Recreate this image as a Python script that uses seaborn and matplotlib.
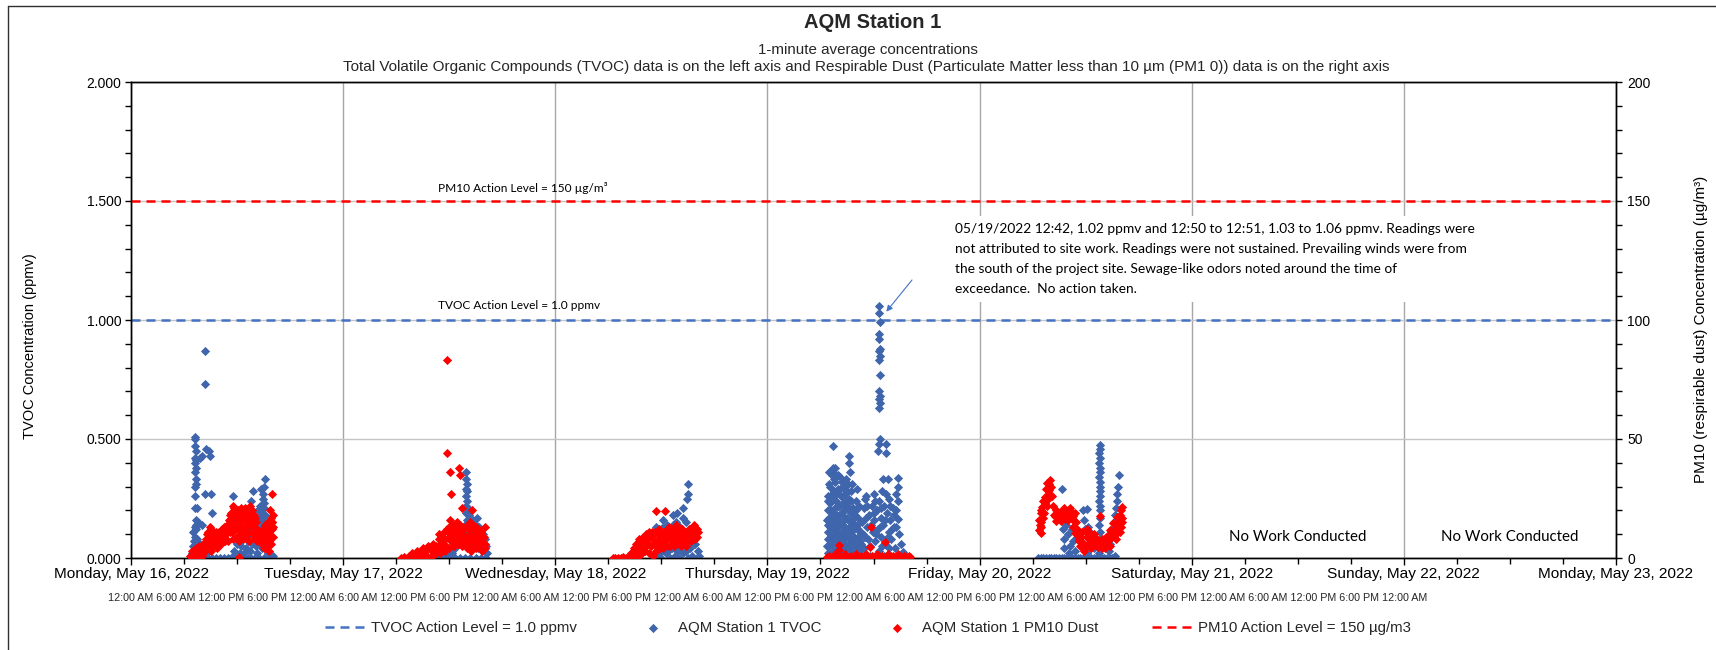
import pandas as pd
import matplotlib
matplotlib.use("Agg")
import matplotlib.pyplot as plt
import matplotlib.dates as mdates
from matplotlib.ticker import MultipleLocator, FormatStrFormatter
from matplotlib.lines import Line2D
import seaborn as sns

# ---------------- text ----------------
title = "AQM Station 1"
subtitle1 = "1-minute average concentrations"
subtitle2 = ("Total Volatile Organic Compounds (TVOC) data is on the left axis and Respirable Dust "
             "(Particulate Matter less than 10 µm (PM1 0)) data is on the right axis")
left_label = "TVOC Concentration (ppmv)"
right_label = "PM10 (respirable dust) Concentration (µg/m³)"
hour_cycle = ["12:00 AM", "6:00 AM", "12:00 PM", "6:00 PM"]
hour_labels = hour_cycle * 7 + ["12:00 AM"]
note_text = ("05/19/2022 12:42, 1.02 ppmv and 12:50 to 12:51, 1.03 to 1.06 ppmv. Readings were\n"
             "not attributed to site work. Readings were not sustained. Prevailing winds were from\n"
             "the south of the project site. Sewage-like odors noted around the time of\n"
             "exceedance.  No action taken.")
no_work_text = "No Work Conducted"
no_work_days = ["2022-05-21 12:00", "2022-05-22 12:00"]

x_start, x_end = "2022-05-16", "2022-05-23"
tvoc_action = 1.0      # ppmv
pm10_action = 150      # µg/m3

# ---------------- data: (hour of day, value) ----------------
tvoc_may16 = [
    (7.2, 0.51), (7.25, 0.50), (7.2, 0.47), (7.3, 0.45), (7.2, 0.42), (7.3, 0.41), (7.2, 0.40),
    (7.35, 0.38), (7.2, 0.36), (7.4, 0.33), (7.3, 0.31), (7.2, 0.30), (7.25, 0.26), (7.2, 0.21),
    (7.45, 0.21), (7.3, 0.16), (7.4, 0.14), (7.2, 0.13), (7.35, 0.12), (7.05, 0.11), (7.2, 0.09),
    (7.1, 0.07), (7.0, 0.05), (7.1, 0.03), (6.9, 0.02), (7.0, 0.01),
    (8.35, 0.87), (8.4, 0.73), (8.5, 0.46), (8.85, 0.45), (8.9, 0.43), (7.8, 0.42), (8.0, 0.43),
    (8.4, 0.27), (9.1, 0.27), (9.15, 0.19), (7.6, 0.15), (8.0, 0.14), (11.55, 0.26),
    (7.6, 0.05), (8.0, 0.03), (8.3, 0.01), (8.7, 0.0), (9.2, 0.0), (9.6, 0.0), (10.1, 0.0),
    (10.5, 0.0), (11.0, 0.0), (11.5, 0.01), (11.9, 0.0), (12.3, 0.0), (12.8, 0.0), (13.2, 0.0),
    (13.6, 0.0), (14.0, 0.0), (14.5, 0.0), (15.0, 0.0), (15.5, 0.0), (15.9, 0.0), (16.1, 0.01),
    (11.7, 0.03), (12.0, 0.06), (12.2, 0.09), (12.3, 0.02), (12.4, 0.11), (12.5, 0.05), (12.7, 0.08),
    (12.8, 0.02), (12.9, 0.12), (13.0, 0.04), (13.2, 0.07), (13.4, 0.10), (13.5, 0.03), (13.7, 0.06),
    (13.9, 0.09), (14.1, 0.05), (14.3, 0.02),
    (13.6, 0.24), (13.85, 0.28), (14.2, 0.15), (14.4, 0.20), (14.5, 0.17), (14.6, 0.22), (14.7, 0.13),
    (14.8, 0.19), (14.9, 0.25), (14.9, 0.16), (14.95, 0.27), (15.0, 0.30), (15.0, 0.21), (15.0, 0.11),
    (15.1, 0.23), (15.1, 0.14), (15.15, 0.33), (15.2, 0.18), (15.3, 0.08), (15.4, 0.05), (15.5, 0.02),
    (15.8, 0.01), (16.0, 0.0),
    (7.5, 0.08), (7.8, 0.06), (8.2, 0.04), (8.6, 0.02), (14.5, 0.09), (14.8, 0.04), (15.2, 0.10),
    (14.7, 0.29), (15.0, 0.07), (13.0, 0.10), (13.3, 0.12), (12.6, 0.13),
]
tvoc_may17 = [
    (13.95, 0.36), (13.9, 0.33), (14.0, 0.31), (13.9, 0.29), (14.05, 0.28), (13.95, 0.26), (14.0, 0.24),
    (13.85, 0.22), (14.1, 0.21), (13.9, 0.19), (14.2, 0.18), (14.0, 0.16), (14.3, 0.15), (13.8, 0.14),
    (14.5, 0.14), (13.9, 0.12), (14.7, 0.16), (15.1, 0.17), (15.0, 0.14), (15.4, 0.13), (15.6, 0.11),
    (15.8, 0.10), (16.0, 0.08), (16.2, 0.05), (16.3, 0.02), (15.3, 0.09), (14.8, 0.10), (14.4, 0.11),
    (13.7, 0.10), (13.4, 0.08), (13.1, 0.06), (12.7, 0.04), (12.3, 0.02), (11.8, 0.01), (11.3, 0.0),
    (10.8, 0.0), (12.0, 0.0), (12.6, 0.0), (13.2, 0.0), (13.8, 0.0), (14.4, 0.0), (15.0, 0.0),
    (15.6, 0.0), (16.2, 0.0), (14.6, 0.05), (15.2, 0.04), (15.9, 0.03), (14.2, 0.06), (14.9, 0.07),
]
tvoc_may18 = [
    (15.0, 0.31), (15.05, 0.27), (14.95, 0.25), (14.45, 0.21), (14.5, 0.17), (12.2, 0.16), (13.3, 0.18),
    (13.8, 0.19), (13.3, 0.14), (12.1, 0.125), (11.4, 0.13), (14.1, 0.13), (13.6, 0.15), (12.6, 0.14),
    (14.8, 0.15), (15.2, 0.12), (15.5, 0.10), (15.8, 0.06),
    (11.0, 0.0), (11.5, 0.01), (12.0, 0.0), (12.5, 0.02), (13.0, 0.0), (13.5, 0.01), (14.0, 0.0),
    (14.5, 0.02), (15.0, 0.0), (15.5, 0.01), (16.0, 0.0), (16.3, 0.01), (12.2, 0.04), (13.2, 0.04),
    (14.2, 0.05), (15.2, 0.04), (16.1, 0.03), (11.8, 0.02), (12.8, 0.03), (13.8, 0.03), (14.8, 0.03),
]
tvoc_may19 = [
    (12.67, 1.06), (12.65, 1.03), (12.7, 0.99), (12.6, 0.94), (12.65, 0.92), (12.7, 0.88), (12.65, 0.87),
    (12.7, 0.85), (12.65, 0.83), (12.7, 0.77), (12.65, 0.70), (12.7, 0.68), (12.65, 0.67), (12.7, 0.65),
    (12.65, 0.63), (12.7, 0.50), (12.65, 0.48), (13.4, 0.48), (12.5, 0.45), (13.4, 0.44),
    (7.4, 0.47), (9.28, 0.43), (9.28, 0.40), (7.4, 0.38), (9.3, 0.36), (7.45, 0.36),
    (6.8, 0.02), (6.8, 0.08), (6.8, 0.14), (6.8, 0.20), (6.9, 0.11), (6.9, 0.26), (7.0, 0.05), (7.0, 0.17),
    (7.1, 0.23), (7.1, 0.30), (7.2, 0.09), (7.2, 0.14), (7.3, 0.19), (7.3, 0.35), (7.4, 0.03), (7.4, 0.25),
    (7.5, 0.12), (7.5, 0.28), (7.6, 0.07), (7.6, 0.21), (7.7, 0.16), (7.7, 0.32), (7.8, 0.10), (7.8, 0.24),
    (7.9, 0.04), (7.9, 0.18), (8.0, 0.13), (8.0, 0.29), (8.1, 0.08), (8.1, 0.22), (8.2, 0.15), (8.2, 0.34),
    (8.3, 0.05), (8.3, 0.26), (8.4, 0.11), (8.4, 0.19), (8.5, 0.23), (8.5, 0.02), (8.6, 0.14), (8.6, 0.30),
    (8.7, 0.08), (8.7, 0.20), (8.8, 0.17), (8.8, 0.27), (8.9, 0.04), (8.9, 0.12), (9.0, 0.22), (9.0, 0.09),
    (9.1, 0.16), (9.1, 0.31), (9.2, 0.06), (9.2, 0.25), (9.3, 0.13), (9.4, 0.19), (9.4, 0.03), (9.5, 0.10),
    (9.5, 0.28), (9.6, 0.15), (9.7, 0.21), (9.7, 0.07), (9.8, 0.12), (9.9, 0.18), (10.0, 0.05), (10.0, 0.24),
    (10.1, 0.14), (10.2, 0.09), (10.3, 0.17), (10.4, 0.03), (10.5, 0.11),
    (6.7, 0.05), (6.75, 0.16), (6.85, 0.24), (6.95, 0.31), (7.05, 0.13), (7.15, 0.20), (7.25, 0.27),
    (7.35, 0.06), (7.45, 0.16), (7.55, 0.33), (7.65, 0.11), (7.75, 0.27), (7.85, 0.14), (7.95, 0.22),
    (8.05, 0.06), (8.15, 0.18), (8.25, 0.29), (8.35, 0.09), (8.45, 0.15), (8.55, 0.26), (8.65, 0.06),
    (8.75, 0.23), (8.85, 0.10), (8.95, 0.17), (9.05, 0.28), (9.15, 0.11), (9.25, 0.20), (9.35, 0.08),
    (9.45, 0.24), (9.55, 0.14), (9.65, 0.05), (9.75, 0.17), (9.85, 0.09), (9.95, 0.13), (10.05, 0.20),
    (10.15, 0.04), (10.25, 0.12), (10.35, 0.22), (10.45, 0.07), (7.0, 0.36), (7.6, 0.38), (8.0, 0.35),
    (8.4, 0.32), (8.9, 0.33), (9.6, 0.31), (10.1, 0.29), (7.8, 0.01), (8.6, 0.01), (9.3, 0.01),
    (10.0, 0.01), (10.8, 0.01), (11.6, 0.01), (12.4, 0.01), (13.2, 0.01), (14.0, 0.01), (14.8, 0.01),
    (15.5, 0.01),
    (10.7, 0.15), (10.9, 0.21), (11.0, 0.09), (11.2, 0.26), (11.3, 0.13), (11.5, 0.18), (11.6, 0.05),
    (11.8, 0.22), (11.9, 0.11), (12.0, 0.27), (12.1, 0.16), (12.2, 0.07), (12.4, 0.20), (12.5, 0.12),
    (12.6, 0.24), (12.8, 0.17), (12.9, 0.09), (13.0, 0.28), (13.1, 0.14), (13.2, 0.22), (13.3, 0.06),
    (13.5, 0.19), (13.6, 0.33), (13.05, 0.33), (13.7, 0.11), (13.8, 0.25), (13.9, 0.16), (14.0, 0.08),
    (14.2, 0.21), (14.3, 0.13), (14.4, 0.04),
    (10.6, 0.06), (10.8, 0.10), (11.1, 0.17), (11.4, 0.08), (11.7, 0.14), (12.0, 0.19), (12.3, 0.10),
    (12.7, 0.13), (13.0, 0.05), (13.3, 0.16), (13.6, 0.09), (13.9, 0.22), (14.1, 0.12), (14.3, 0.18),
    (11.3, 0.22), (12.2, 0.24), (12.9, 0.21), (13.4, 0.27), (11.0, 0.25), (10.9, 0.04), (12.6, 0.03),
    (13.8, 0.04),
    (14.75, 0.335), (14.75, 0.30), (14.6, 0.27), (14.75, 0.24), (14.6, 0.20), (14.75, 0.165),
    (14.6, 0.13), (14.9, 0.10), (15.1, 0.06), (15.3, 0.027), (15.6, 0.013),
]
tvoc_may20 = [
    (6.6, 0.0), (6.9, 0.0), (7.2, 0.0), (7.5, 0.0), (7.8, 0.0), (8.1, 0.0), (8.4, 0.0), (8.7, 0.0),
    (9.0, 0.0), (9.3, 0.0), (9.6, 0.0), (9.9, 0.0), (10.2, 0.01), (10.5, 0.0), (10.8, 0.0), (11.1, 0.0),
    (11.4, 0.0), (11.7, 0.0), (12.0, 0.0), (12.3, 0.0), (12.6, 0.0), (12.9, 0.0), (13.2, 0.0), (13.5, 0.0),
    (13.8, 0.0), (14.1, 0.0), (14.4, 0.0), (14.7, 0.0), (15.0, 0.0), (15.3, 0.01),
    (13.6, 0.475), (13.6, 0.46), (13.55, 0.44), (13.6, 0.42), (13.55, 0.40), (13.6, 0.38), (13.6, 0.36),
    (13.55, 0.34), (13.6, 0.32), (13.6, 0.30), (13.65, 0.28), (13.6, 0.26), (13.55, 0.24), (13.6, 0.22),
    (13.65, 0.20), (13.6, 0.17), (13.55, 0.14), (13.6, 0.11), (13.65, 0.08), (13.6, 0.05), (13.55, 0.02),
    (9.3, 0.29), (12.1, 0.205), (15.8, 0.348), (15.6, 0.27), (15.7, 0.30), (15.5, 0.24), (15.4, 0.21),
    (15.3, 0.18), (15.2, 0.15), (15.0, 0.12), (14.9, 0.09), (14.8, 0.06), (14.6, 0.03),
    (9.2, 0.16), (9.4, 0.12), (9.6, 0.08), (9.8, 0.14), (10.0, 0.10), (10.2, 0.05), (10.4, 0.12),
    (10.6, 0.07), (10.8, 0.03), (11.0, 0.09), (9.5, 0.04), (10.1, 0.02),
    (11.7, 0.20), (11.8, 0.16), (11.9, 0.12), (12.1, 0.09), (12.3, 0.13), (12.5, 0.06), (12.7, 0.10),
    (12.9, 0.04), (12.2, 0.02), (11.6, 0.05),
]

pm10_may16 = [
    (6.7, 1), (6.9, 3), (7.0, 0), (7.1, 1), (7.3, 4), (7.5, 2), (7.6, 0), (7.7, 5), (7.9, 3), (8.0, 1),
    (8.1, 6), (8.3, 4), (8.4, 3), (8.5, 8), (8.7, 11), (8.8, 5), (8.9, 13), (9.0, 10), (9.0, 3), (9.2, 7),
    (9.4, 9), (9.5, 6), (9.6, 11), (9.9, 8), (10.1, 10), (10.2, 6), (10.3, 12), (10.5, 9), (10.6, 7),
    (10.7, 12), (10.9, 14), (11.1, 16), (11.3, 19), (11.4, 15), (11.4, 11), (11.5, 22), (11.6, 17),
    (11.7, 21), (11.8, 13), (11.9, 19), (12.1, 20), (12.2, 14), (12.3, 18), (12.4, 10), (12.5, 17),
    (12.6, 12), (12.7, 19), (12.8, 9), (12.9, 21), (13.0, 13), (13.1, 20), (13.2, 11), (13.3, 18),
    (13.5, 22), (13.6, 14), (13.7, 20), (13.8, 10), (13.9, 18), (14.0, 8), (14.1, 15), (14.3, 12),
    (14.4, 9), (14.8, 6), (15.0, 10), (15.1, 4), (15.2, 8), (15.3, 12), (15.4, 5), (15.5, 15), (15.6, 11),
    (15.6, 7), (15.7, 20), (15.7, 13), (15.8, 17), (15.8, 9), (15.9, 27), (15.9, 15), (16.0, 12),
    (16.1, 18), (12.2, 0.5),
    (7.2, 2.5), (7.4, 0.5), (7.8, 2), (8.2, 2), (8.6, 6), (8.6, 10), (8.8, 8), (9.1, 12), (9.3, 5),
    (9.5, 9), (9.7, 4), (9.8, 10), (10.0, 6), (10.0, 11), (10.4, 8), (10.5, 13), (10.8, 10), (11.0, 7),
    (11.0, 13), (11.2, 11), (11.2, 18), (11.5, 8), (11.6, 13), (11.8, 16), (11.9, 9), (12.0, 17),
    (12.0, 12), (12.2, 7), (12.3, 16), (12.4, 21), (12.6, 15), (12.7, 8), (12.8, 17), (13.0, 18),
    (13.0, 9), (13.2, 15), (13.3, 7), (13.4, 14), (13.5, 19), (13.7, 16), (13.8, 13), (14.0, 12),
    (14.0, 17), (14.2, 10), (14.3, 7), (14.5, 10), (14.6, 8), (14.9, 12), (15.0, 6), (15.2, 14),
    (15.3, 9), (15.5, 11), (15.6, 3), (15.8, 6), (16.0, 15), (16.1, 9), (16.1, 13),
]
pm10_may17 = [
    (6.6, 0), (6.9, 0.5), (7.2, 0), (7.5, 1), (7.5, 0), (7.8, 2), (8.0, 0), (8.1, 1), (8.4, 3), (8.5, 0),
    (8.7, 2), (8.8, 0.5), (9.0, 4), (9.0, 0), (9.2, 1), (9.3, 3), (9.5, 1), (9.6, 5), (9.9, 4), (10.0, 1),
    (10.0, 3), (10.2, 6), (10.5, 5), (10.5, 2), (10.7, 5), (10.8, 8), (10.9, 10), (11.0, 2), (11.0, 4),
    (11.1, 9), (11.2, 6), (11.4, 11), (11.5, 3), (11.5, 8), (11.6, 5), (11.7, 12), (11.8, 83), (11.8, 44),
    (12.0, 13), (12.0, 4), (12.0, 9), (12.1, 36), (12.1, 16), (12.2, 7), (12.25, 27), (12.3, 14),
    (12.4, 11), (12.5, 5), (12.6, 14), (12.6, 8), (12.8, 10), (12.9, 15), (13.0, 6), (13.0, 12),
    (13.1, 38), (13.2, 35), (13.2, 14), (13.2, 8), (13.3, 11), (13.4, 21), (13.5, 13), (13.5, 5),
    (13.6, 10), (13.8, 13), (14.0, 4), (14.0, 9), (14.1, 14), (14.2, 7), (14.4, 15), (14.5, 3),
    (14.5, 11), (14.6, 20), (14.7, 14), (14.8, 7), (15.0, 13), (15.0, 4), (15.0, 9), (15.2, 6),
    (15.3, 12), (15.4, 8), (15.5, 5), (15.6, 11), (15.8, 6), (15.9, 9), (16.0, 13), (16.0, 4), (16.1, 6),
    (11.3, 7), (11.9, 11), (12.3, 10), (12.7, 12), (12.9, 9), (13.1, 13), (13.4, 9), (13.7, 12),
    (13.9, 7), (14.3, 12), (14.6, 9), (14.9, 11), (15.1, 8), (15.4, 10), (15.7, 8), (12.7, 6),
    (13.6, 6), (14.3, 5), (15.0, 6), (15.7, 3),
]
pm10_may18 = [
    (6.5, 0), (6.8, 0), (7.1, 0), (7.4, 0), (7.7, 0.5), (8.0, 0), (8.3, 1), (8.6, 2), (8.7, 0), (8.9, 4),
    (9.0, 1), (9.1, 6), (9.3, 3), (9.4, 0.5), (9.5, 8), (9.7, 5), (9.8, 2), (9.9, 9), (10.0, 4), (10.1, 7),
    (10.2, 3), (10.3, 10), (10.5, 6), (10.6, 2), (10.7, 9), (10.8, 5), (10.9, 11), (11.0, 1), (11.1, 8),
    (11.3, 11), (11.35, 19.7), (11.4, 3), (11.5, 5), (11.6, 7), (11.7, 12), (11.8, 4), (11.9, 9),
    (12.1, 7), (12.2, 4), (12.3, 11), (12.4, 19.7), (12.4, 7), (12.5, 9), (12.6, 5), (12.7, 12),
    (12.9, 13), (13.0, 5), (13.1, 8), (13.2, 7), (13.3, 12), (13.4, 5), (13.5, 10), (13.7, 14),
    (13.8, 6), (13.9, 13), (14.0, 8), (14.1, 9), (14.2, 5), (14.3, 12), (14.5, 11), (14.6, 6), (14.7, 8),
    (14.8, 5), (14.9, 10), (15.0, 7), (15.1, 12), (15.3, 9), (15.4, 7), (15.5, 12), (15.6, 10),
    (15.7, 14), (15.8, 8), (15.9, 12), (16.0, 9), (16.1, 11),
    (9.2, 4), (9.6, 7), (10.0, 8), (10.4, 8), (10.6, 11), (11.0, 10), (11.2, 6), (11.6, 10), (12.0, 11),
    (12.2, 9), (12.8, 10), (13.0, 11), (13.3, 9), (13.6, 12), (14.0, 11), (14.4, 9), (14.8, 10),
    (15.2, 10), (15.6, 8), (16.0, 12), (13.5, 7), (14.5, 8), (12.0, 6),
]
pm10_may19 = [
    (6.7, 0.5), (7.0, 1), (7.3, 0.5), (7.6, 1.5), (7.9, 0.5), (8.2, 1), (8.5, 0.5), (8.8, 1.5), (9.1, 0.5),
    (9.4, 1), (9.7, 0.5), (10.0, 1.5), (10.3, 0.5), (10.6, 1), (10.9, 0.5), (11.2, 1.5), (11.5, 0.5),
    (11.8, 1), (12.1, 0.5), (12.4, 1.5), (12.7, 0.5), (13.0, 1), (13.3, 0.5), (13.6, 1.5), (13.9, 0.5),
    (14.2, 1), (14.5, 0.5), (14.8, 1.5), (15.1, 0.5), (15.4, 1), (15.7, 0.5), (16.0, 1), (16.1, 0.5),
    (8.15, 5.5), (8.15, 3.4), (11.7, 13.2), (11.65, 4.8), (13.25, 6.9),
]
pm10_may20 = [
    (6.7, 16.0), (6.7, 11.8), (6.9, 18.8), (6.9, 13.2), (6.9, 10.4), (7.0, 15), (7.1, 21.6), (7.2, 24),
    (7.3, 19), (7.35, 25.8), (7.5, 29), (7.6, 31.4), (7.6, 22), (7.8, 28.6), (7.9, 27), (8.0, 32.8),
    (8.1, 30), (8.3, 22), (8.4, 18), (8.6, 20.2), (8.7, 15.5), (8.9, 16.7), (9.0, 19), (9.2, 15.5),
    (9.3, 17.4), (9.5, 19.5), (9.6, 21), (9.8, 18), (10.0, 16), (10.2, 20.9), (10.4, 16.7), (10.6, 17.5),
    (10.8, 18.8), (10.6, 13), (10.8, 10.4), (11.0, 12), (11.2, 8.3), (11.4, 5), (11.5, 9), (11.7, 6.2),
    (11.8, 3), (11.9, 4), (12.0, 11), (12.1, 9.0), (12.3, 6), (12.5, 10.4), (12.6, 4), (12.7, 8),
    (12.9, 10), (13.0, 7.6), (13.2, 6), (13.4, 4.8), (13.5, 7), (13.6, 17.6), (13.8, 4.1), (13.9, 8),
    (14.0, 6), (14.2, 4), (14.3, 9), (14.5, 7), (14.7, 11.8), (14.8, 5), (15.0, 9), (15.1, 14.6),
    (15.3, 12), (15.4, 8), (15.6, 17.4), (15.6, 10.4), (15.8, 15), (15.9, 11), (16.0, 20.2), (16.0, 13),
    (16.1, 21.6), (16.1, 17),
    (6.8, 14), (7.0, 20), (7.2, 17), (7.4, 23), (7.7, 25), (7.9, 31), (8.2, 26), (8.5, 17.5), (8.8, 19),
    (9.1, 17), (9.4, 20), (9.7, 16.5), (9.9, 19.5), (10.1, 18), (10.3, 18.5), (10.5, 19.5), (10.7, 15.5),
    (10.9, 15), (11.1, 10), (11.3, 7), (11.6, 11), (12.2, 12), (12.4, 8), (12.8, 6), (13.1, 9),
    (13.3, 5.5), (13.7, 5.5), (14.1, 7), (14.4, 5.5), (14.6, 9.5), (14.9, 11), (15.2, 11), (15.5, 14),
    (15.7, 13), (15.9, 18), (16.1, 15),
]

tvoc_by_day = {"2022-05-16": tvoc_may16, "2022-05-17": tvoc_may17, "2022-05-18": tvoc_may18,
               "2022-05-19": tvoc_may19, "2022-05-20": tvoc_may20}
pm10_by_day = {"2022-05-16": pm10_may16, "2022-05-17": pm10_may17, "2022-05-18": pm10_may18,
               "2022-05-19": pm10_may19, "2022-05-20": pm10_may20}


def to_frame(by_day):
    rows = [(pd.Timestamp(d) + pd.Timedelta(hours=h), v) for d, pts in by_day.items() for h, v in pts]
    return pd.DataFrame(rows, columns=["time", "value"])


tvoc_df = to_frame(tvoc_by_day)
pm10_df = to_frame(pm10_by_day)

# ---------------- style ----------------
sns.set_theme(style="ticks")
plt.rcParams["font.family"] = ["Liberation Sans", "DejaVu Sans"]
NOTE_FONT = ["Lato", "DejaVu Sans"]
TVOC_MARK = "#3F65AD"
TVOC_LINE = "#4472C4"
RED = "#FF0000"
W, H = 1716, 650

fig = plt.figure(figsize=(W / 100, H / 100), dpi=100)
fig.patch.set_facecolor("white")
ax = fig.add_axes([131 / W, 1 - 558 / H, (1616 - 131) / W, (558 - 82) / H])

sns.scatterplot(data=tvoc_df, x="time", y="value", ax=ax, marker="D", s=22, color=TVOC_MARK,
                linewidth=0, label="AQM Station 1 TVOC", legend=False, zorder=3)
tv_line = ax.axhline(tvoc_action, color=TVOC_LINE, lw=1.8, ls=(0, (3.6, 2.4)), zorder=2,
                     label="TVOC Action Level = 1.0 ppmv")

ax2 = ax.twinx()
sns.scatterplot(data=pm10_df, x="time", y="value", ax=ax2, marker="D", s=22, color=RED,
                linewidth=0, label="AQM Station 1 PM10 Dust", legend=False, zorder=3)
pm_line = ax2.axhline(pm10_action, color=RED, lw=1.8, ls=(0, (3.6, 2.4)), zorder=2,
                      label="PM10 Action Level = 150 µg/m3")

ax.set_xlim(pd.Timestamp(x_start), pd.Timestamp(x_end))
ax.set_ylim(0, 2)
ax2.set_ylim(0, 200)

ax.xaxis.set_major_locator(mdates.DayLocator())
ax.xaxis.set_major_formatter(mdates.DateFormatter("%A, %B %d, %Y"))
ax.xaxis.set_minor_locator(mdates.HourLocator(byhour=[6, 12, 18]))
ax.yaxis.set_major_locator(MultipleLocator(0.5))
ax.yaxis.set_minor_locator(MultipleLocator(0.1))
ax.yaxis.set_major_formatter(FormatStrFormatter("%.3f"))
ax2.yaxis.set_major_locator(MultipleLocator(50))
ax2.yaxis.set_minor_locator(MultipleLocator(10))

ax.tick_params(axis="x", which="major", length=5, width=1, color="black", labelsize=11.1,
               pad=1.5, labelcolor="black")
ax.tick_params(axis="x", which="minor", length=4, width=1, color="black")
ax.tick_params(axis="y", which="both", length=4, width=1, color="black", labelsize=10,
               pad=3, labelcolor="black")
ax2.tick_params(axis="y", which="both", length=4, width=1, color="black", labelsize=10,
                pad=4, labelcolor="black")

ax.grid(True, axis="x", which="major", color="#A6A6A6", lw=1)
ax.grid(True, axis="y", which="major", color="#C4C4C4", lw=1)
ax.set_axisbelow(True)
for a in (ax, ax2):
    for s in a.spines.values():
        s.set_color("black")
        s.set_linewidth(1)

ax.set_xlabel("")
ax.set_ylabel(left_label, fontsize=10.5, color="black")
ax.yaxis.set_label_coords(-0.063, 0.445)
ax2.set_xlabel("")
ax2.set_ylabel(right_label, fontsize=11, color="black")
ax2.yaxis.set_label_coords(1.0525, 0.48)

# titles
fig.text(873 / W, 1 - 22 / H, title, ha="center", va="center", fontsize=14.5, fontweight="bold")
fig.text(868 / W, 1 - 50 / H, subtitle1, ha="center", va="center", fontsize=10.9)
fig.text(866 / W, 1 - 67 / H, subtitle2, ha="center", va="center", fontsize=10.95)

# hour labels row
fig.text(768 / W, 1 - 598 / H, " ".join(hour_labels), ha="center", va="center", fontsize=7.78)

# action level labels
label_time = pd.Timestamp("2022-05-17 10:42")
ax2.text(label_time, 155.5, "PM10 Action Level = 150 µg/m³", ha="left", va="center",
         fontsize=8.6, family=NOTE_FONT, color="black")
ax.text(label_time, 1.059, "TVOC Action Level = 1.0 ppmv", ha="left", va="center",
        fontsize=8.6, family=NOTE_FONT, color="black")

# no work labels
for d in no_work_days:
    ax.text(pd.Timestamp(d), 0.088, no_work_text, ha="center", va="center", fontsize=10.8,
            family=NOTE_FONT, color="black")

# exceedance note + arrow
ax.text(955 / W, 1 - 259 / H, note_text, transform=fig.transFigure, ha="left", va="center",
        fontsize=9.9, family=NOTE_FONT, linespacing=1.8, color="black", zorder=6,
        bbox=dict(facecolor="white", edgecolor="none", pad=5), clip_on=False)
ax.annotate("", xy=(pd.Timestamp("2022-05-19 13:27"), 1.035), xycoords="data",
            xytext=(912 / W, 1 - 280 / H), textcoords="figure fraction",
            arrowprops=dict(arrowstyle="-|>", color=TVOC_LINE, lw=0.8, mutation_scale=9,
                            shrinkA=0, shrinkB=0), zorder=7, annotation_clip=False)

# legend
handles = [tv_line, ax.collections[0], ax2.collections[0], pm_line]
labels = [h.get_label() for h in handles]
fig.legend(handles, labels, loc="center", bbox_to_anchor=(868 / W, 1 - 628 / H), ncol=4,
           frameon=False, fontsize=10.8, handlelength=2.9, handletextpad=0.2, columnspacing=3.6,
           markerscale=1.0)

# chart border
fig.add_artist(Line2D([8 / W, 8 / W], [0, 1 - 6 / H], transform=fig.transFigure, color="#303030", lw=1))
fig.add_artist(Line2D([8 / W, 1], [1 - 6 / H, 1 - 6 / H], transform=fig.transFigure, color="#303030", lw=1))

fig.savefig("out.png", dpi=100, facecolor="white")
